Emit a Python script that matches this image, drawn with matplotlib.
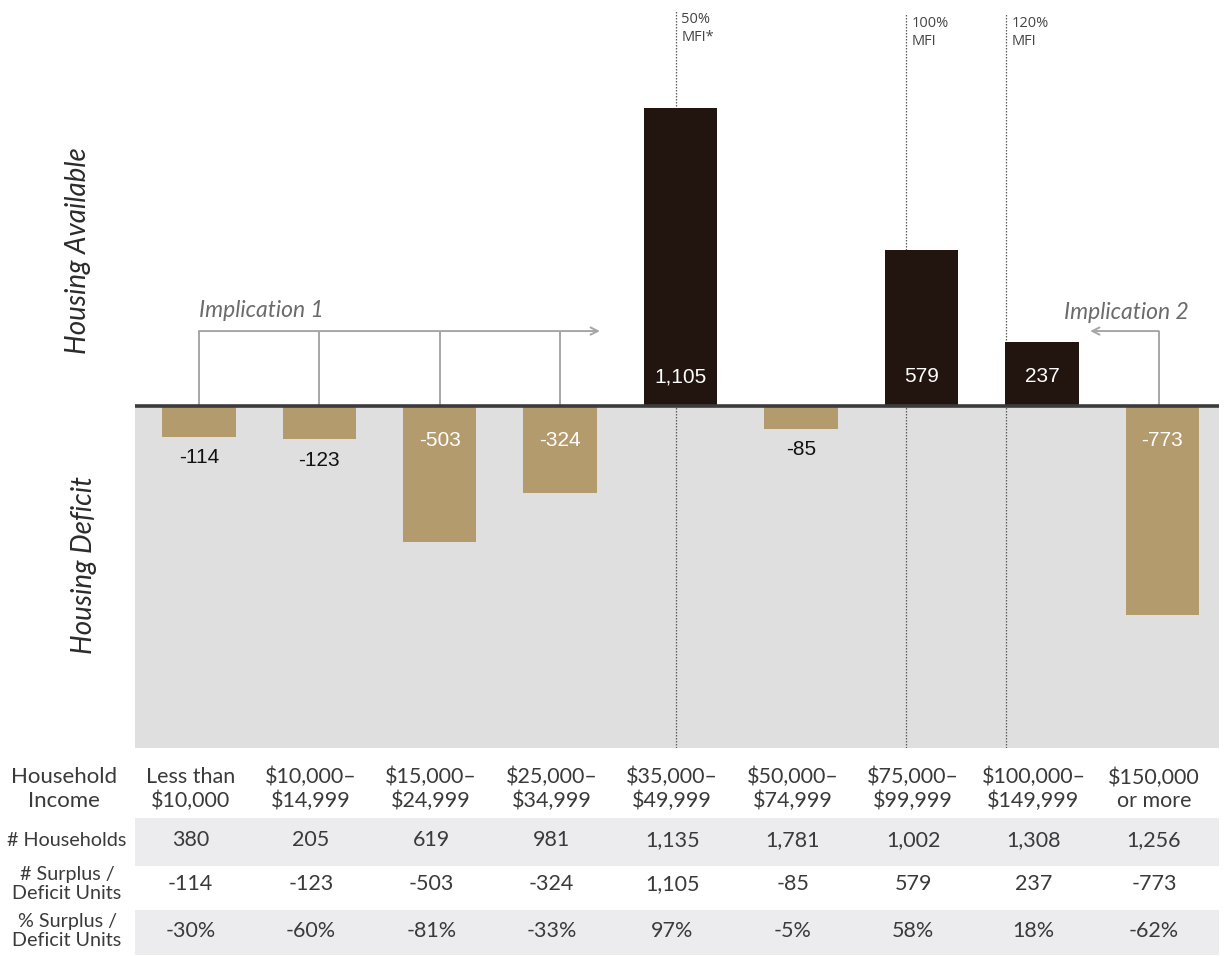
import matplotlib
matplotlib.use("Agg")
import matplotlib.pyplot as plt
from matplotlib.patches import Rectangle
from matplotlib.transforms import blended_transform_factory as blend

# ---- data -------------------------------------------------------------
income_brackets = [
    "Less than\n$10,000", "$10,000–\n$14,999", "$15,000–\n$24,999",
    "$25,000–\n$34,999", "$35,000–\n$49,999", "$50,000–\n$74,999",
    "$75,000–\n$99,999", "$100,000–\n$149,999", "$150,000\nor more",
]
households = [380, 205, 619, 981, 1135, 1781, 1002, 1308, 1256]
surplus_units = [-114, -123, -503, -324, 1105, -85, 579, 237, -773]
surplus_pct = [-30, -60, -81, -33, 97, -5, 58, 18, -62]
mfi_labels = ["50%\nMFI*", "100%\nMFI", "120%\nMFI"]
row_labels = ["# Households", "# Surplus /\nDeficit Units", "% Surplus /\nDeficit Units"]

# ---- layout -----------------------------------------------------------
W, H = 1225, 956
fx = lambda px: px / W
fy = lambda px: 1 - px / H

GOLD = "#b49b6d"
DARK = "#22150f"
TXT = "#3a3a3a"
ARROW = "#a6a6a6"

plt.rcParams["font.family"] = ["Lato", "DejaVu Sans"]

fig = plt.figure(figsize=(W / 100, H / 100), dpi=100)
ax = fig.add_axes([fx(135), fy(748), (1219 - 135) / W, 748 / H])
y_top, y_bot = 1505.5, -1268
ax.set_xlim(-0.53, 8.47)
ax.set_ylim(y_bot, y_top)
ax.axis("off")

x = list(range(len(surplus_units)))

# deficit zone and zero line
ax.axhspan(y_bot, 0, color="#dfdfdf", zorder=0, lw=0)
ax.axhline(0, color="#3b3b3b", lw=2.6, zorder=4)

# MFI reference lines
mfi_x = [3.96, 5.87, 6.70]
mfi_top = [1468, 1453, 1453]
for mx, top, lab in zip(mfi_x, mfi_top, mfi_labels):
    ax.vlines(mx, y_bot, top, colors="#5a5a5a", lw=0.9,
              linestyles=(0, (1.2, 1.2)), zorder=1)
    ax.annotate(lab, (mx, top), xytext=(4, -1), textcoords="offset points",
                ha="left", va="top", fontsize=10.5, color="#444444",
                linespacing=1.35, family=["Open Sans", "DejaVu Sans"])

# bars
colors = [DARK if v >= 0 else GOLD for v in surplus_units]
ax.bar(x, surplus_units, width=0.61, color=colors, zorder=2, lw=0)

# value labels
for xi, v in zip(x, surplus_units):
    kw = dict(ha="center", va="center", fontsize=15,
              family=["Liberation Sans", "DejaVu Sans"],
              textcoords="offset points", zorder=5)
    if v >= 0:
        ax.annotate(f"{v:,}", (xi, 0), xytext=(0, 21), color="white", **kw)
    elif v <= -200:
        ax.annotate(f"{v:,}", (xi, 0), xytext=(0, -25), color="white", **kw)
    else:
        ax.annotate(f"{v:,}", (xi, v), xytext=(0, -15), color="#111111", **kw)

# implication brackets
br_y = 278
ax.vlines([0, 1, 2, 3], 0, br_y, colors=ARROW, lw=1.4, zorder=3)
ax.annotate("", xy=(3.33, br_y), xytext=(0, br_y),
            arrowprops=dict(arrowstyle="->", color=ARROW, lw=1.4,
                            shrinkA=0, shrinkB=0, mutation_scale=13))
ax.text(0.0, 354, "Implication 1", ha="left", va="center", style="italic",
        fontsize=16.5, color="#6b6b6b")

ax.vlines(7.97, 0, br_y, colors=ARROW, lw=1.4, zorder=3)
ax.annotate("", xy=(7.40, br_y), xytext=(7.97, br_y),
            arrowprops=dict(arrowstyle="->", color=ARROW, lw=1.4,
                            shrinkA=0, shrinkB=0, mutation_scale=13))
ax.text(8.22, 347, "Implication 2", ha="right", va="center", style="italic",
        fontsize=16.5, color="#6b6b6b")

# side titles
fig.text(fx(78), fy(251), "Housing Available", rotation=90, ha="center",
         va="center", style="italic", fontsize=20, color="#2b2b2b")
fig.text(fx(84), fy(565), "Housing Deficit", rotation=90, ha="center",
         va="center", style="italic", fontsize=20, color="#2b2b2b")

# ---- table ------------------------------------------------------------
band_tr = blend(ax.transAxes, fig.transFigure)
for top, bot in [(818, 866), (910, 955)]:
    fig.add_artist(Rectangle((0, fy(bot)), 1, (bot - top) / H,
                             transform=band_tr, color="#ececee", lw=0, zorder=0))

tb = blend(ax.transData, fig.transFigure)
dx = -0.07
header_y, row_y = 789, [840, 884, 931]

fig.text(fx(64), fy(header_y), "Household\nIncome", ha="center", va="center",
         fontsize=16, linespacing=1.2, color=TXT)
for lab, ry in zip(row_labels, row_y):
    fig.text(fx(67), fy(ry), lab, ha="center", va="center",
             fontsize=14.2, linespacing=1.1, color=TXT)

rows = [
    [f"{v:,}" for v in households],
    [f"{v:,}" for v in surplus_units],
    [f"{v}%" for v in surplus_pct],
]
for xi, lab in zip(x, income_brackets):
    ax.text(xi + dx, fy(header_y), lab, transform=tb, ha="center", va="center",
            fontsize=15.5, linespacing=1.2, color=TXT, clip_on=False)
for vals, ry in zip(rows, row_y):
    for xi, s in zip(x, vals):
        ax.text(xi + dx, fy(ry), s, transform=tb, ha="center", va="center",
                fontsize=15.5, color=TXT, clip_on=False)

fig.savefig("out.png", dpi=100, facecolor="white")
